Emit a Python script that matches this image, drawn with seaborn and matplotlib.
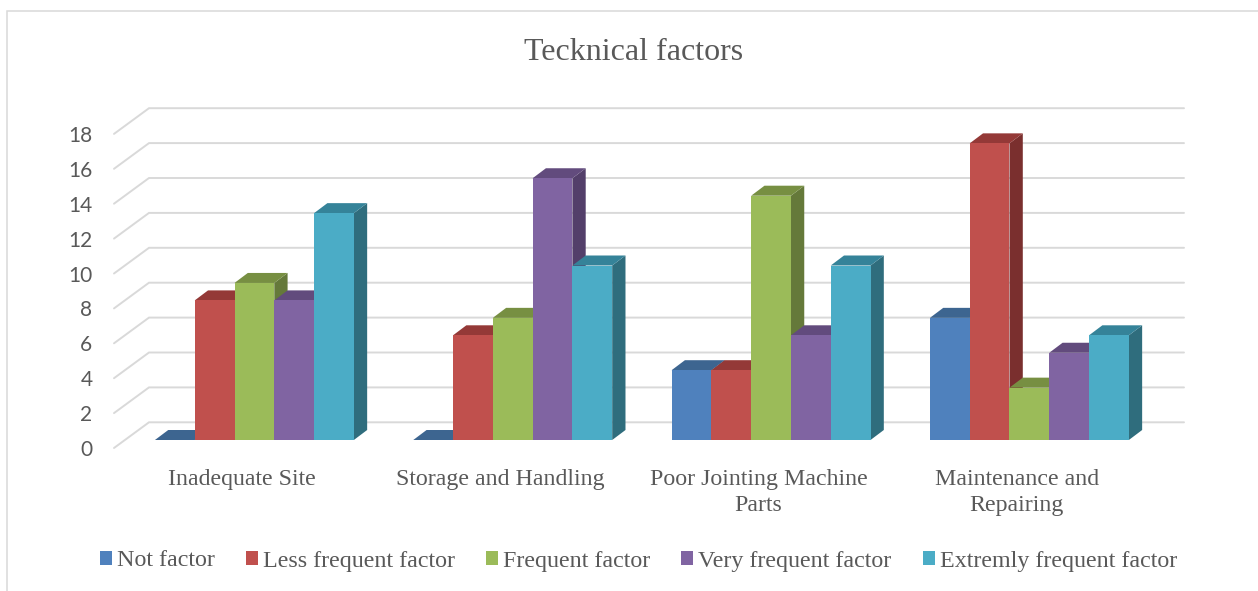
import matplotlib
matplotlib.use("Agg")
import matplotlib.pyplot as plt
import seaborn as sns
import pandas as pd
from matplotlib.lines import Line2D
from matplotlib.patches import Patch, Polygon
from matplotlib.transforms import Affine2D

title = "Tecknical factors"
categories = ["Inadequate Site", "Storage and Handling",
              "Poor Jointing Machine\nParts", "Maintenance and\nRepairing"]
series = ["Not factor", "Less frequent factor", "Frequent factor",
          "Very frequent factor", "Extremly frequent factor"]
not_factor = [0, 0, 4, 7]
less_frequent = [8, 6, 4, 17]
frequent = [9, 7, 14, 3]
very_frequent = [8, 15, 6, 5]
extremely_frequent = [13, 10, 10, 6]
yticks = list(range(0, 20, 2))

front_colors = ["#4F81BD", "#C0504D", "#9BBB59", "#8064A2", "#4BACC6"]
top_colors = ["#3D6590", "#943937", "#778F42", "#624B7D", "#358399"]
side_colors = ["#315377", "#7A2F2E", "#65793A", "#533F6A", "#2F6D7D"]

W, H = 1258, 591
sns.set_theme(style="white")
serif = "Liberation Serif"
text_col = "#595959"
grid_col = "#D9D9D9"

fig = plt.figure(figsize=(W / 100, H / 100), dpi=100, facecolor="white")
# axes in pixels: x 114..1184, y 100..448
ax = fig.add_axes([114 / W, 1 - 448 / H, 1070 / W, 348 / H])
ax.set_facecolor("none")

rows = []
for name, vals in zip(series, [not_factor, less_frequent, frequent, very_frequent, extremely_frequent]):
    for c, v in zip(categories, vals):
        rows.append({"category": c, "series": name, "value": v})
df = pd.DataFrame(rows)

sns.barplot(data=df, x="category", y="value", hue="series", order=categories,
            hue_order=series, palette=front_colors, saturation=1, width=0.77,
            gap=0, legend=False, ax=ax, zorder=5)

px_x = 258.33   # px per category
px_y = 17.45    # px per value unit
cx0 = 254.4     # px of first category centre
ax.set_xlim((114 - cx0) / px_x, (1184 - cx0) / px_x)
ax.set_ylim(-8 / px_y, 340 / px_y)
ax.set_xlabel("")
ax.set_ylabel("")
sns.despine(ax=ax, left=True, bottom=True, top=True, right=True)

# wall gridlines with perspective
wall_left = (149 - cx0) / px_x
for v in yticks:
    ax.plot([ax.get_xlim()[0], wall_left, ax.get_xlim()[1]],
            [v - 8 / px_y, v + 17.7 / px_y, v + 17.7 / px_y],
            color=grid_col, lw=1.4, zorder=1, clip_on=False, solid_joinstyle="miter")

# 3D faces for each bar, left to right
dx = 13.3 / px_x
dy = 10 / px_y
bars = [p for p in ax.patches]
n_cat = len(categories)
order = sorted(range(len(bars)), key=lambda i: bars[i].get_x())
for z, i in enumerate(order):
    b = bars[i]
    s = i // n_cat
    x0, w, h = b.get_x(), b.get_width(), b.get_height()
    x1 = x0 + w
    base = 10 + 3 * z
    ax.add_patch(Polygon([(x1, 0), (x1 + dx, dy), (x1 + dx, h + dy), (x1, h)],
                         closed=True, fc=side_colors[s], ec="none", zorder=base))
    ax.add_patch(Polygon([(x0, h), (x1, h), (x1 + dx, h + dy), (x0 + dx, h + dy)],
                         closed=True, fc=top_colors[s], ec="none", zorder=base + 1))
    b.set_zorder(base + 2)
    b.set_edgecolor("none")

# ticks
ax.set_yticks(yticks)
ax.set_xticks(range(n_cat))
ax.set_xticklabels(categories, fontfamily=serif, fontsize=17.2, color=text_col, linespacing=1.3)
ax.tick_params(axis="x", length=0, pad=15)
ax.tick_params(axis="y", length=0, pad=15.5)
for lab in ax.get_yticklabels():
    lab.set_fontfamily("Lato")
    lab.set_fontsize(15)
    lab.set_color(text_col)
    lab.set_transform(lab.get_transform() + Affine2D().translate(0, -8))
for lab in ax.get_xticklabels():
    lab.set_transform(lab.get_transform() + Affine2D().translate(-12.5, 0))

fig.text(634 / W, 1 - 52.5 / H, title, ha="center", va="center", family=serif,
         fontsize=23, color=text_col)

handles = [Patch(fc=c, ec="none", label=s) for c, s in zip(front_colors, series)]
fig.legend(handles=handles, loc="center", bbox_to_anchor=(638.5 / W, 1 - 561 / H), ncol=5,
           frameon=False, prop={"family": serif, "size": 17.3}, labelcolor=text_col,
           handlelength=0.5, handleheight=0.5, handletextpad=0.21, columnspacing=1.294,
           borderpad=0, borderaxespad=0)

# chart frame
fig.add_artist(Line2D([7 / W, 7 / W, 1], [0, 1 - 11 / H, 1 - 11 / H], color=grid_col, lw=1.1,
                      transform=fig.transFigure, solid_joinstyle="miter"))

fig.savefig("out.png", dpi=100, facecolor="white")
